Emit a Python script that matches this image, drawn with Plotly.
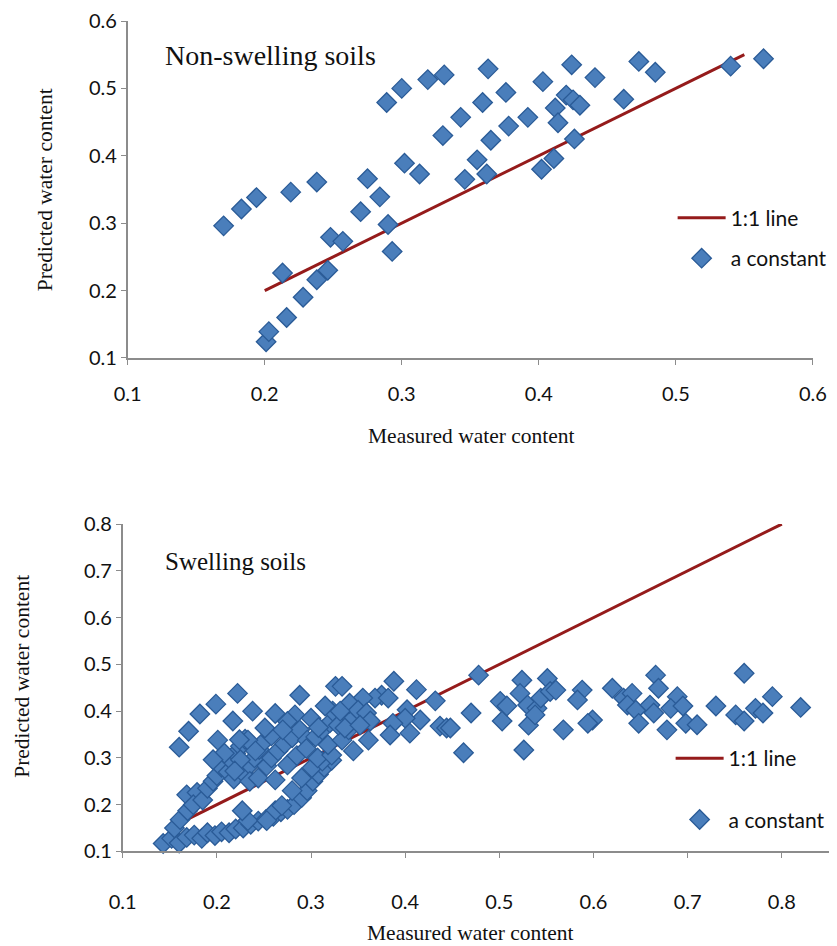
import plotly.graph_objects as go

# ---------------- data ----------------
top_line_x = [0.2, 0.55]
top_line_y = [0.2, 0.55]

top_x = [0.17, 0.183, 0.194, 0.219, 0.238, 0.201, 0.203, 0.216, 0.213, 0.228, 0.238, 0.246, 0.248,
         0.257, 0.270, 0.275, 0.284, 0.290, 0.293, 0.289, 0.300, 0.302, 0.319, 0.331, 0.363, 0.403,
         0.424, 0.441, 0.473, 0.485, 0.540, 0.564, 0.343, 0.359, 0.376, 0.330, 0.365, 0.378, 0.392,
         0.412, 0.414, 0.420, 0.425, 0.430, 0.462, 0.426, 0.313, 0.346, 0.355, 0.362, 0.402, 0.411]
top_y = [0.296, 0.321, 0.338, 0.346, 0.361, 0.124, 0.139, 0.160, 0.226, 0.190, 0.216, 0.230, 0.279,
         0.273, 0.317, 0.366, 0.339, 0.298, 0.258, 0.479, 0.500, 0.389, 0.513, 0.520, 0.529, 0.510,
         0.535, 0.516, 0.540, 0.524, 0.533, 0.544, 0.457, 0.479, 0.494, 0.430, 0.423, 0.444, 0.457,
         0.471, 0.449, 0.490, 0.483, 0.475, 0.484, 0.425, 0.373, 0.365, 0.394, 0.373, 0.380, 0.396]

bot_line_x = [0.16, 0.8]
bot_line_y = [0.16, 0.8]

bot_pts = [
    # lower band
    (0.143, 0.117), (0.152, 0.128), (0.160, 0.118), (0.168, 0.130), (0.176, 0.135), (0.184, 0.128),
    (0.190, 0.140), (0.198, 0.134), (0.205, 0.142), (0.213, 0.140), (0.220, 0.148), (0.228, 0.150),
    (0.236, 0.158), (0.244, 0.165), (0.252, 0.168), (0.260, 0.175), (0.268, 0.185), (0.275, 0.190),
    (0.282, 0.200), (0.290, 0.215), (0.296, 0.230), (0.302, 0.250), (0.308, 0.265), (0.314, 0.280),
    (0.322, 0.295), (0.262, 0.187), (0.233, 0.166), (0.253, 0.166), (0.227, 0.187), (0.269, 0.198),
    (0.280, 0.230), (0.290, 0.257), (0.301, 0.279), (0.312, 0.293),
    # upper band / main mass
    (0.155, 0.150), (0.161, 0.168), (0.169, 0.187), (0.168, 0.221), (0.179, 0.226), (0.175, 0.200),
    (0.185, 0.210), (0.190, 0.235), (0.196, 0.250), (0.200, 0.262), (0.205, 0.280), (0.212, 0.270),
    (0.215, 0.295), (0.220, 0.310), (0.208, 0.310), (0.225, 0.325), (0.230, 0.340), (0.218, 0.255),
    (0.228, 0.268), (0.235, 0.285), (0.240, 0.300), (0.245, 0.318), (0.250, 0.335), (0.235, 0.250),
    (0.244, 0.257), (0.253, 0.283), (0.262, 0.253), (0.258, 0.300), (0.265, 0.315), (0.272, 0.330),
    (0.280, 0.343), (0.288, 0.360), (0.296, 0.338), (0.307, 0.300), (0.322, 0.306), (0.318, 0.328),
    (0.333, 0.338), (0.275, 0.285), (0.285, 0.305), (0.295, 0.320), (0.305, 0.345), (0.312, 0.360),
    (0.320, 0.375), (0.329, 0.370), (0.323, 0.400), (0.315, 0.411), (0.283, 0.392), (0.275, 0.378),
    (0.258, 0.347), (0.251, 0.364), (0.233, 0.338), (0.241, 0.315), (0.225, 0.296), (0.219, 0.272),
    (0.196, 0.296), (0.201, 0.338), (0.224, 0.339), (0.160, 0.323), (0.170, 0.357), (0.182, 0.394),
    (0.199, 0.415), (0.222, 0.438), (0.217, 0.379), (0.238, 0.400), (0.288, 0.434), (0.326, 0.453),
    (0.262, 0.395), (0.270, 0.360), (0.300, 0.385), (0.308, 0.365), (0.340, 0.360), (0.345, 0.385),
    # middle
    (0.388, 0.464), (0.412, 0.446), (0.432, 0.422), (0.416, 0.381), (0.402, 0.403), (0.400, 0.385),
    (0.387, 0.374), (0.384, 0.349), (0.405, 0.353), (0.437, 0.368), (0.444, 0.364), (0.361, 0.338),
    (0.345, 0.315), (0.375, 0.434), (0.368, 0.428), (0.382, 0.428), (0.355, 0.428), (0.341, 0.417),
    (0.333, 0.453), (0.350, 0.402), (0.359, 0.396), (0.363, 0.379), (0.331, 0.400), (0.336, 0.364),
    (0.352, 0.370), (0.478, 0.477), (0.470, 0.396), (0.462, 0.311), (0.448, 0.364),
    # right
    (0.501, 0.421), (0.503, 0.379), (0.508, 0.411), (0.524, 0.466), (0.522, 0.438), (0.530, 0.413),
    (0.531, 0.370), (0.526, 0.317), (0.540, 0.406), (0.544, 0.428), (0.551, 0.470), (0.554, 0.442),
    (0.560, 0.445), (0.538, 0.392), (0.568, 0.360), (0.588, 0.445), (0.583, 0.424), (0.599, 0.381),
    (0.594, 0.374), (0.620, 0.449), (0.632, 0.428), (0.641, 0.438), (0.636, 0.413), (0.645, 0.402),
    (0.648, 0.374), (0.660, 0.413), (0.664, 0.396), (0.666, 0.477), (0.669, 0.449), (0.678, 0.360),
    (0.689, 0.431), (0.682, 0.406), (0.695, 0.411), (0.698, 0.374), (0.710, 0.371), (0.730, 0.411),
    (0.751, 0.392), (0.760, 0.379), (0.760, 0.481), (0.772, 0.406), (0.780, 0.396), (0.790, 0.431),
    (0.820, 0.408),
]
bot_x = [p[0] for p in bot_pts]
bot_y = [p[1] for p in bot_pts]

# ---------------- style ----------------
LINE_COLOR = "#951b1b"
MK = dict(symbol="diamond", size=15, color="#4a7ebb", line=dict(color="#2a5b97", width=1.3))
SERIF = "Liberation Serif, Times New Roman, serif"
SANS = "Lato, Carlito, Open Sans, sans-serif"
TXT = "#111111"

fig = go.Figure()
fig.add_trace(go.Scatter(x=top_line_x, y=top_line_y, mode="lines", name="1:1 line",
                         line=dict(color=LINE_COLOR, width=3), xaxis="x", yaxis="y",
                         legend="legend", legendgroup="a"))
fig.add_trace(go.Scatter(x=top_x, y=top_y, mode="markers", name="a constant", marker=MK,
                         xaxis="x", yaxis="y", legend="legend", legendgroup="b", cliponaxis=False))
fig.add_trace(go.Scatter(x=bot_line_x, y=bot_line_y, mode="lines", name="1:1 line",
                         line=dict(color=LINE_COLOR, width=3), xaxis="x2", yaxis="y2",
                         legend="legend2", legendgroup="c"))
fig.add_trace(go.Scatter(x=bot_x, y=bot_y, mode="markers", name="a constant", marker=MK,
                         xaxis="x2", yaxis="y2", legend="legend2", legendgroup="d", cliponaxis=False))

W, H = 837, 946
# screen-pixel -> paper fraction (calibrated to the rendered page)
X0, XW, Y0, YH = 22.5, 807.6, 19.4, 926.6
def px(xp): return (xp - X0) / XW
def py(yp): return min(1.0, 1 - (yp - Y0) / YH)

axis_common = dict(showgrid=False, zeroline=False, showline=True, linecolor="#8c8c8c", linewidth=1.5,
                   ticks="outside", ticklen=5, tickcolor="#8c8c8c", tickwidth=1.2,
                   tickfont=dict(family=SANS, size=20, color=TXT), tickformat=".1f", dtick=0.1)

fig.update_layout(
    width=W, height=H, margin=dict(l=0, r=0, t=0, b=0),
    paper_bgcolor="white", plot_bgcolor="white", showlegend=True,
    xaxis=dict(domain=[px(128), px(812)], range=[0.1, 0.6], anchor="y", tick0=0.1,
               ticklabelstandoff=12, **axis_common),
    yaxis=dict(domain=[py(358), py(19)], range=[0.1, 0.6], anchor="x", tick0=0.1, **axis_common),
    xaxis2=dict(domain=[px(123), px(828)], range=[0.1, 0.85], anchor="y2", tick0=0.1,
                tickvals=[0.1, 0.2, 0.3, 0.4, 0.5, 0.6, 0.7, 0.8], ticklabelstandoff=27, **axis_common),
    yaxis2=dict(domain=[py(854), py(525)], range=[0.1, 0.8], anchor="x2", tick0=0.1, **axis_common),
    legend=dict(x=px(672), y=py(197), xanchor="left", yanchor="top", bgcolor="rgba(0,0,0,0)",
                font=dict(family=SANS, size=21, color=TXT), tracegroupgap=10, itemwidth=48),
    legend2=dict(x=px(670), y=py(740), xanchor="left", yanchor="top", bgcolor="rgba(0,0,0,0)",
                 font=dict(family=SANS, size=21, color=TXT), tracegroupgap=31, itemwidth=48),
)

ann = [
    dict(text="Non-swelling soils", x=px(163), y=py(54), xanchor="left", yanchor="middle",
         font=dict(family=SERIF, size=28, color=TXT)),
    dict(text="Swelling soils", x=px(163), y=py(563), xanchor="left", yanchor="middle",
         font=dict(family=SERIF, size=25, color=TXT)),
    dict(text="Measured water content", x=px(471), y=py(436), xanchor="center", yanchor="middle",
         font=dict(family=SERIF, size=21.5, color=TXT)),
    dict(text="Measured water content", x=px(470), y=py(936), xanchor="center", yanchor="middle",
         font=dict(family=SERIF, size=21.5, color=TXT)),
    dict(text="Predicted water content", x=px(45), y=py(189), xanchor="center", yanchor="middle",
         textangle=-90, font=dict(family=SERIF, size=21.5, color=TXT)),
    dict(text="Predicted water content", x=px(23), y=py(678), xanchor="center", yanchor="middle",
         textangle=-90, font=dict(family=SERIF, size=21.5, color=TXT)),
]
for a in ann:
    a.update(xref="paper", yref="paper", showarrow=False)
fig.update_layout(annotations=ann)

fig.write_html("out.html")
